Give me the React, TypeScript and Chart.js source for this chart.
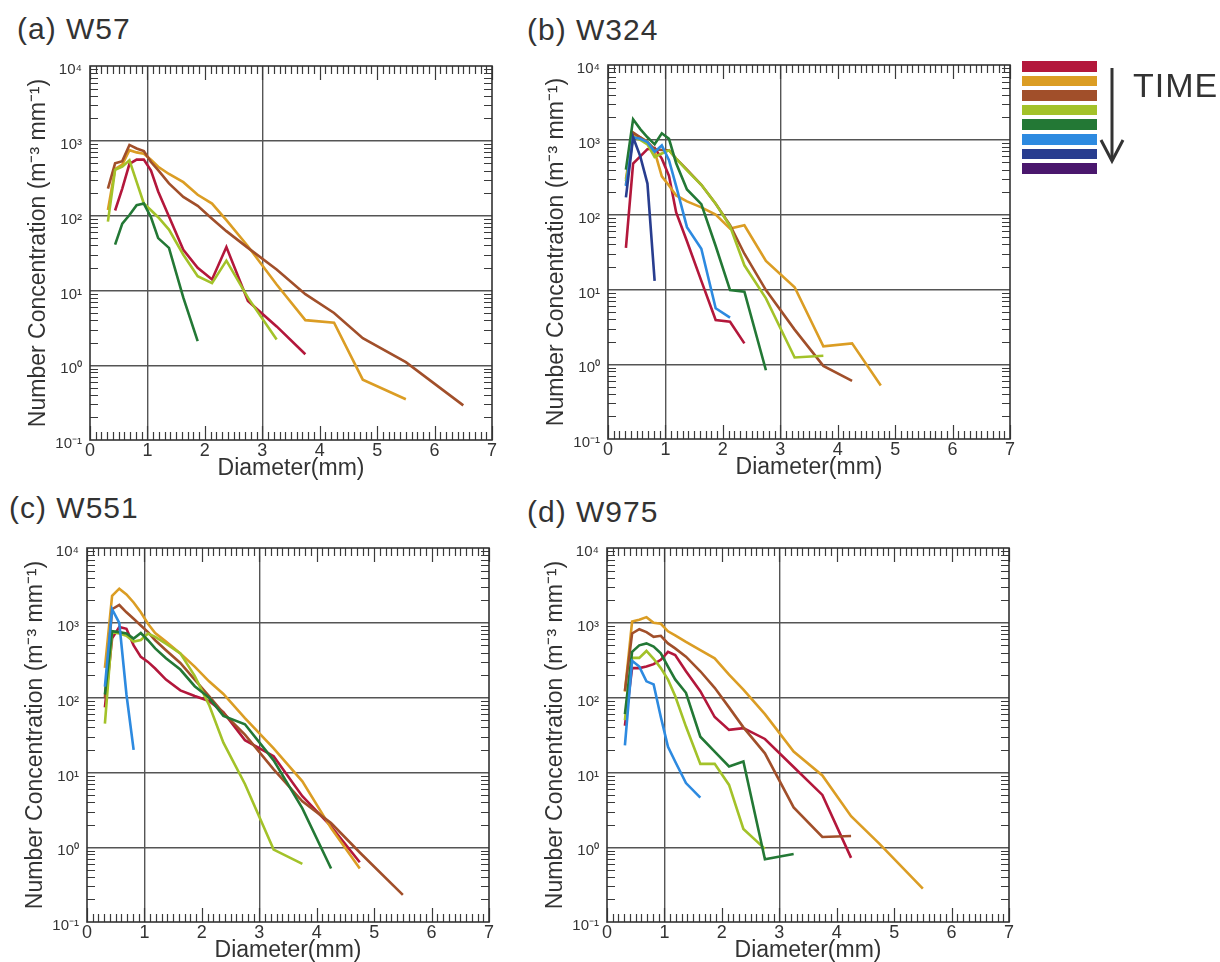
import React, { useEffect, useRef } from 'react';
import { Chart, registerables } from 'chart.js';

Chart.register(...registerables);

// ---------- data ----------
const DIAMETER_BINS = [0.312, 0.437, 0.562, 0.687, 0.812, 0.937, 1.062, 1.187, 1.375, 1.625, 1.875, 2.125, 2.375, 2.75, 3.25, 3.75, 4.25, 4.75, 5.5, 6.5];
const X_TICK_VALUES = [0, 1, 2, 3, 4, 5, 6, 7];
const Y_TICK_VALUES = [0.1, 1, 10, 100, 1000, 10000];
const Y_TICK_LABELS = ['10⁻¹', '10⁰', '10¹', '10²', '10³', '10⁴'];
const X_GRID_VALUES = [1, 3];
const Y_GRID_VALUES = [1, 10, 100, 1000];
const TIME_COLORS = ['#B3173B', '#DB9D24', '#A14F2A', '#A3C229', '#237835', '#2D8AE0', '#283D8F', '#4A176D'];
const TIME_LABELS = ['t1', 't2', 't3', 't4', 't5', 't6', 't7', 't8'];

// (a) W57
const W57_RED = [null, 117, 230, 490, 560, 560, 400, 210, 97, 35, 20, 14, 38, 7.2, 3.3, 1.4];
const W57_ORANGE = [119, 420, 480, 750, 700, 670, 560, 450, 360, 280, 190, 145, 87, 39, 12, 4.0, 3.7, 0.64, 0.35];
const W57_BROWN = [230, 500, 535, 880, 790, 730, 520, 405, 270, 178, 135, 91, 62, 37, 19, 8.9, 5.0, 2.3, 1.1, 0.29];
const W57_YGREEN = [83, 410, 450, 550, 283, 145, 118, 95, 65, 30, 15.5, 12.5, 25, 8, 2.2];
const W57_GREEN = [null, 41, 78, 102, 138, 145, 95, 50, 37, 8, 2.1];

// (b) W324
const W324_RED = [36, 480, 600, 750, 780, 560, 330, 107, 44, 13, 3.9, 3.7, 1.9];
const W324_ORANGE = [300, 1200, 1080, 950, 700, 325, 245, 180, 150, 125, 100, 65, 72, 24, 10.7, 1.73, 1.9, 0.52];
const W324_BROWN = [250, 1250, 1080, 930, 750, 730, 725, 560, 400, 250, 140, 72, 30, 9.8, 2.9, 0.95, 0.6];
const W324_YGREEN = [280, 1100, 1000, 870, 590, 655, 725, 560, 390, 250, 140, 70, 21, 7.6, 1.23, 1.3];
const W324_GREEN = [400, 1880, 1390, 1080, 870, 1220, 1030, 485, 217, 138, 38, 9.8, 9.3, 0.83];
const W324_BLUE = [240, 1080, 1030, 930, 690, 840, 535, 240, 68, 35, 5.6, 4.2];
const W324_NAVY = [170, 1080, 600, 260, 13];

// (c) W551
const W551_RED = [74, 620, 880, 830, 500, 350, 300, 245, 174, 125, 105, 90, 64, 27, 16.5, 4.8, 1.9, 0.63];
const W551_ORANGE = [250, 2290, 2860, 2400, 1870, 1380, 970, 730, 560, 390, 260, 165, 112, 53, 21, 7.6, 1.8, 0.52];
const W551_BROWN = [100, 1520, 1730, 1380, 1130, 920, 750, 585, 430, 290, 174, 105, 62, 32, 11, 4.1, 2.1, 0.85, 0.23];
const W551_YGREEN = [45, 750, 720, 670, 560, 590, 720, 650, 525, 390, 195, 80, 25, 7, 0.93, 0.6];
const W551_GREEN = [110, 770, 750, 720, 615, 730, 585, 455, 335, 237, 142, 100, 57, 44, 14.5, 3.3, 0.52];
const W551_BLUE = [140, 1520, 1000, 110, 20];

// (d) W975
const W975_RED = [42, 248, 248, 260, 280, 320, 410, 370, 225, 122, 55, 37, 39, 28, 11.8, 5.0, 0.72];
const W975_ORANGE = [120, 1040, 1100, 1190, 1000, 970, 770, 680, 555, 430, 335, 203, 128, 60, 19, 9.1, 2.6, 1.1, 0.28];
const W975_BROWN = [123, 720, 820, 750, 650, 670, 530, 455, 353, 225, 135, 74, 40, 18, 3.4, 1.37, 1.41];
const W975_YGREEN = [50, 340, 340, 420, 330, 248, 174, 105, 41, 13, 13, 6.8, 1.75, 0.95];
const W975_GREEN = [60, 410, 500, 530, 480, 390, 260, 175, 116, 30, 19, 12, 14, 0.69, 0.81];
const W975_BLUE = [23, 310, 260, 165, 150, 55, 22, 14, 7.2, 4.6];

type Series = (number | null)[] | null;

const PANELS = [
  { title: '(a) W57', titleX: 17, titleY: 29, plotLeft: 90, plotTop: 63,
    series: [W57_RED, W57_ORANGE, W57_BROWN, W57_YGREEN, W57_GREEN, null, null, null] as Series[] },
  { title: '(b) W324', titleX: 527, titleY: 30, plotLeft: 608, plotTop: 62,
    series: [W324_RED, W324_ORANGE, W324_BROWN, W324_YGREEN, W324_GREEN, W324_BLUE, W324_NAVY, null] as Series[] },
  { title: '(c) W551', titleX: 9, titleY: 508, plotLeft: 87, plotTop: 545,
    series: [W551_RED, W551_ORANGE, W551_BROWN, W551_YGREEN, W551_GREEN, W551_BLUE, null, null] as Series[] },
  { title: '(d) W975', titleX: 527, titleY: 512, plotLeft: 607, plotTop: 545,
    series: [W975_RED, W975_ORANGE, W975_BROWN, W975_YGREEN, W975_GREEN, W975_BLUE, null, null] as Series[] },
];

// ---------- layout ----------
const FONT = "'Liberation Sans', Arial, Helvetica, sans-serif";
const TEXT = '#333333';
const PLOT_W = 402;
const PLOT_H = 377;
const Y_AXIS_W = 70;
const X_AXIS_H = 46;
const PAD_TOP = 14;
const PAD_RIGHT = 14;
const CANVAS_W = Y_AXIS_W + PLOT_W + PAD_RIGHT;
const CANVAS_H = PAD_TOP + PLOT_H + X_AXIS_H;
const MINOR_X_STEP = 0.1;
const MINOR_Y_MULTS = [2, 3, 4, 5, 6, 7, 8, 9];
const MINOR_Y_DECADES = [0.1, 1, 10, 100, 1000];

const frameTicksPlugin = {
  id: 'frameTicks',
  beforeDatasetsDraw(chart: any) {
    const { ctx, chartArea } = chart;
    const { left, right, top, bottom } = chartArea;
    const xs = chart.scales.x;
    const ys = chart.scales.y;
    ctx.save();
    ctx.strokeStyle = '#3a3a3a';
    ctx.lineWidth = 1.2;
    ctx.beginPath();
    const nMinor = Math.round((xs.max - xs.min) / MINOR_X_STEP);
    for (let i = 0; i <= nMinor; i++) {
      const v = xs.min + i * MINOR_X_STEP;
      const px = Math.round(xs.getPixelForValue(v)) + 0.5;
      const len = i % 10 === 0 ? 14 : 8;
      ctx.moveTo(px, bottom);
      ctx.lineTo(px, bottom - len);
      ctx.moveTo(px, top);
      ctx.lineTo(px, top + len);
    }
    for (const d of MINOR_Y_DECADES) {
      for (const m of MINOR_Y_MULTS) {
        const py = Math.round(ys.getPixelForValue(m * d)) + 0.5;
        ctx.moveTo(left, py);
        ctx.lineTo(left + 8, py);
        ctx.moveTo(right, py);
        ctx.lineTo(right - 8, py);
      }
    }
    ctx.stroke();
    ctx.lineWidth = 1.6;
    ctx.strokeStyle = '#333333';
    ctx.strokeRect(left, top, right - left, bottom - top);
    ctx.restore();
  },
};

function Panel({ cfg }: { cfg: typeof PANELS[number] }) {
  const ref = useRef<HTMLCanvasElement>(null);
  useEffect(() => {
    const datasets = cfg.series
      .map((vals, ci) => {
        if (!vals) return null;
        const data = vals
          .map((v, i) => (v == null ? null : { x: DIAMETER_BINS[i], y: v }))
          .filter(Boolean);
        return {
          label: TIME_LABELS[ci],
          data,
          borderColor: TIME_COLORS[ci],
          backgroundColor: TIME_COLORS[ci],
          borderWidth: 2.6,
          pointRadius: 0,
          tension: 0,
          fill: false,
          order: 20 - ci,
        };
      })
      .filter(Boolean) as any[];

    const chart = new Chart(ref.current as HTMLCanvasElement, {
      type: 'line',
      data: { datasets },
      plugins: [frameTicksPlugin],
      options: {
        animation: false,
        responsive: false,
        maintainAspectRatio: false,
        layout: { padding: { top: PAD_TOP, right: PAD_RIGHT, left: 0, bottom: 0 } },
        plugins: { legend: { display: false }, tooltip: { enabled: false }, title: { display: false } },
        scales: {
          x: {
            type: 'linear',
            min: 0,
            max: 7,
            afterBuildTicks: (scale: any) => {
              scale.ticks = X_TICK_VALUES.map((v) => ({ value: v }));
            },
            afterFit: (scale: any) => {
              scale.height = X_AXIS_H;
            },
            ticks: {
              autoSkip: false,
              maxRotation: 0,
              padding: 0,
              color: TEXT,
              font: { family: FONT, size: 18 },
              callback: (v: any) => String(v),
            },
            grid: {
              drawTicks: false,
              lineWidth: 1.4,
              color: (c: any) => (X_GRID_VALUES.includes(c.tick?.value) ? '#555555' : 'rgba(0,0,0,0)'),
            },
            border: { display: false },
            title: {
              display: true,
              text: 'Diameter(mm)',
              color: TEXT,
              font: { family: FONT, size: 23 },
              padding: { top: 0, bottom: 4 },
            },
          },
          y: {
            type: 'logarithmic',
            min: 0.1,
            max: 10000,
            afterBuildTicks: (scale: any) => {
              scale.ticks = Y_TICK_VALUES.map((v) => ({ value: v }));
            },
            afterFit: (scale: any) => {
              scale.width = Y_AXIS_W;
            },
            ticks: {
              autoSkip: false,
              padding: 8,
              labelOffset: 4,
              color: TEXT,
              font: { family: FONT, size: 15 },
              callback: (v: any) => {
                const idx = Y_TICK_VALUES.findIndex((t) => Math.abs(t - Number(v)) / t < 1e-6);
                return idx >= 0 ? Y_TICK_LABELS[idx] : '';
              },
            },
            grid: {
              drawTicks: false,
              lineWidth: 1.4,
              color: (c: any) => {
                const v = c.tick?.value;
                return Y_GRID_VALUES.some((g) => Math.abs(g - v) / g < 1e-6) ? '#555555' : 'rgba(0,0,0,0)';
              },
            },
            border: { display: false },
            title: {
              display: true,
              text: 'Number Concentration (m⁻³ mm⁻¹)',
              color: TEXT,
              font: { family: FONT, size: 23 },
              padding: { top: 5, bottom: 0 },
            },
          },
        },
      } as any,
    });
    return () => chart.destroy();
  }, [cfg]);

  return (
    <>
      <div
        style={{
          position: 'absolute',
          left: cfg.titleX,
          top: cfg.titleY - 17,
          font: `30px ${FONT}`,
          lineHeight: '34px',
          letterSpacing: '1px',
          color: TEXT,
          whiteSpace: 'nowrap',
        }}
      >
        {cfg.title}
      </div>
      <canvas
        ref={ref}
        width={CANVAS_W}
        height={CANVAS_H}
        style={{
          position: 'absolute',
          left: cfg.plotLeft - Y_AXIS_W,
          top: cfg.plotTop - PAD_TOP,
          width: CANVAS_W,
          height: CANVAS_H,
        }}
      />
    </>
  );
}

function TimeLegend() {
  return (
    <>
      {TIME_COLORS.map((c, i) => (
        <div
          key={TIME_LABELS[i]}
          title={TIME_LABELS[i]}
          style={{ position: 'absolute', left: 1022, top: 61 + i * 14.6, width: 75, height: 10.5, background: c }}
        />
      ))}
      <svg style={{ position: 'absolute', left: 1095, top: 60, overflow: 'visible' }} width={40} height={110}>
        <line x1={17} y1={8} x2={17} y2={100} stroke="#333" strokeWidth={3} />
        <polyline points="6,80 17,101 28,80" fill="none" stroke="#333" strokeWidth={3} strokeLinejoin="miter" />
      </svg>
      <div
        style={{
          position: 'absolute',
          left: 1133,
          top: 66,
          font: `34px ${FONT}`,
          lineHeight: '38px',
          color: TEXT,
          letterSpacing: '1px',
        }}
      >
        TIME
      </div>
    </>
  );
}

export default function App() {
  return (
    <div style={{ position: 'absolute', left: 0, top: 0, width: 1220, height: 962, background: '#ffffff', overflow: 'hidden' }}>
      {PANELS.map((p) => (
        <Panel key={p.title} cfg={p} />
      ))}
      <TimeLegend />
    </div>
  );
}
